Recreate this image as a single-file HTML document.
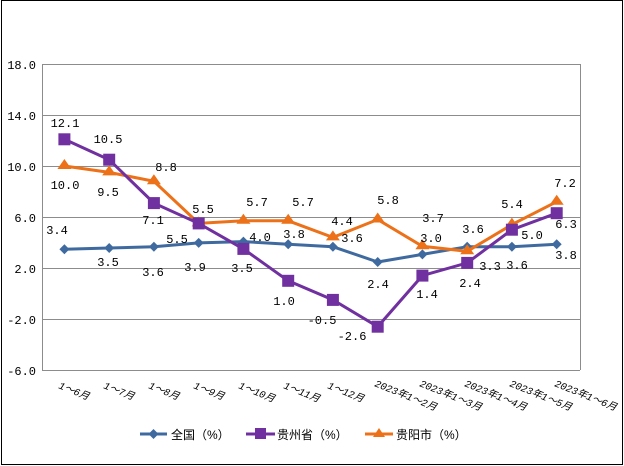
<!DOCTYPE html>
<html><head><meta charset="utf-8"><style>
body{margin:0;background:#fff}
svg{display:block}
text{font-family:"Liberation Mono","Noto Sans CJK SC",monospace;font-size:12px;fill:#000}
</style></head><body>
<svg width="624" height="466" viewBox="0 0 624 466" xmlns="http://www.w3.org/2000/svg">
<rect x="1.5" y="0.5" width="621" height="464" fill="#fff" stroke="#000" stroke-width="1"/>
<g stroke="#8c8c8c" stroke-width="1" fill="none">
<line x1="42" y1="64.5" x2="580" y2="64.5"/>
<line x1="42" y1="115.5" x2="580" y2="115.5"/>
<line x1="42" y1="166.5" x2="580" y2="166.5"/>
<line x1="42" y1="217.5" x2="580" y2="217.5"/>
<line x1="42" y1="268.5" x2="580" y2="268.5"/>
<line x1="42" y1="319.5" x2="580" y2="319.5"/>
<line x1="42.5" y1="64" x2="42.5" y2="370"/>
<line x1="580.5" y1="64" x2="580.5" y2="370"/>
<line x1="42" y1="370.5" x2="580" y2="370.5"/>
</g>
<g text-anchor="end">
<text x="36" y="69">18.0</text><text x="36" y="120">14.0</text><text x="36" y="171">10.0</text>
<text x="36" y="222">6.0</text><text x="36" y="273">2.0</text><text x="36" y="324">-2.0</text><text x="36" y="375">-6.0</text>
</g>
<g style="font-style:italic">
<text transform="translate(58,388) rotate(22)" style="font-size:10px">1～6月</text>
<text transform="translate(103,388) rotate(22)" style="font-size:10px">1～7月</text>
<text transform="translate(148,388) rotate(22)" style="font-size:10px">1～8月</text>
<text transform="translate(193,388) rotate(22)" style="font-size:10px">1～9月</text>
<text transform="translate(238,388) rotate(22)" style="font-size:10px">1～10月</text>
<text transform="translate(283,388) rotate(22)" style="font-size:10px">1～11月</text>
<text transform="translate(327,388) rotate(22)" style="font-size:10px">1～12月</text>
<text transform="translate(374,386) rotate(22)" style="font-size:10px">2023年1～2月</text>
<text transform="translate(419,386) rotate(22)" style="font-size:10px">2023年1～3月</text>
<text transform="translate(464,386) rotate(22)" style="font-size:10px">2023年1～4月</text>
<text transform="translate(509,386) rotate(22)" style="font-size:10px">2023年1～5月</text>
<text transform="translate(554,386) rotate(22)" style="font-size:10px">2023年1～6月</text>
</g>
<polyline fill="none" stroke="#3e6aa0" stroke-width="3" points="64.4,249.3 109.2,248.0 153.9,246.7 198.7,242.9 243.4,241.6 288.2,244.2 332.9,246.7 377.7,262.0 422.4,254.4 467.2,246.7 511.9,246.7 556.7,244.2"/>
<g fill="#3e6aa0">
<path d="M64.4,244.3l5,5-5,5-5-5z"/><path d="M109.2,243l5,5-5,5-5-5z"/><path d="M153.9,241.7l5,5-5,5-5-5z"/><path d="M198.7,237.9l5,5-5,5-5-5z"/><path d="M243.4,236.6l5,5-5,5-5-5z"/><path d="M288.2,239.2l5,5-5,5-5-5z"/><path d="M332.9,241.7l5,5-5,5-5-5z"/><path d="M377.7,257l5,5-5,5-5-5z"/><path d="M422.4,249.4l5,5-5,5-5-5z"/><path d="M467.2,241.7l5,5-5,5-5-5z"/><path d="M511.9,241.7l5,5-5,5-5-5z"/><path d="M556.7,239.2l5,5-5,5-5-5z"/>
</g>
<polyline fill="none" stroke="#ec7118" stroke-width="3" points="64.4,166 109.2,172.4 153.9,181.3 198.7,223.4 243.4,220.8 288.2,220.8 332.9,237.4 377.7,219.5 422.4,246.3 467.2,251.3 511.9,224.6 556.7,201.7"/>
<g fill="#ec7118">
<path d="M64.4,159l7,10h-14z"/><path d="M109.2,165.4l7,10h-14z"/><path d="M153.9,174.3l7,10h-14z"/><path d="M198.7,216.4l7,10h-14z"/><path d="M243.4,213.8l7,10h-14z"/><path d="M288.2,213.8l7,10h-14z"/><path d="M332.9,230.4l7,10h-14z"/><path d="M377.7,212.5l7,10h-14z"/><path d="M422.4,239.3l7,10h-14z"/><path d="M467.2,244.3l7,10h-14z"/><path d="M511.9,217.6l7,10h-14z"/><path d="M556.7,194.7l7,10h-14z"/>
</g>
<polyline fill="none" stroke="#7030a0" stroke-width="3" points="64.4,139.3 109.2,159.7 153.9,203.1 198.7,223.4 243.4,248.9 288.2,280.8 332.9,299.9 377.7,326.7 422.4,275.6 467.2,262.9 511.9,229.7 556.7,213.2"/>
<g fill="#7030a0">
<rect x="58.4" y="133.3" width="12" height="12"/><rect x="103.2" y="153.7" width="12" height="12"/><rect x="147.9" y="197.1" width="12" height="12"/><rect x="192.7" y="217.4" width="12" height="12"/><rect x="237.4" y="242.9" width="12" height="12"/><rect x="282.2" y="274.8" width="12" height="12"/><rect x="326.9" y="293.9" width="12" height="12"/><rect x="371.7" y="320.7" width="12" height="12"/><rect x="416.4" y="269.6" width="12" height="12"/><rect x="461.2" y="256.9" width="12" height="12"/><rect x="505.9" y="223.7" width="12" height="12"/><rect x="550.7" y="207.2" width="12" height="12"/>
</g>
<g text-anchor="middle">
<text x="65" y="127">12.1</text><text x="108" y="143">10.5</text><text x="65" y="189">10.0</text><text x="108" y="196">9.5</text>
<text x="57" y="234">3.4</text><text x="108" y="266">3.5</text>
<text x="166" y="171">8.8</text><text x="153" y="224">7.1</text><text x="177" y="243">5.5</text><text x="153" y="276">3.6</text>
<text x="203" y="213">5.5</text><text x="195" y="271">3.9</text>
<text x="257" y="206">5.7</text><text x="260" y="241">4.0</text><text x="242" y="272">3.5</text>
<text x="303" y="206">5.7</text><text x="294" y="238">3.8</text><text x="284" y="305">1.0</text>
<text x="342" y="225">4.4</text><text x="352" y="242">3.6</text><text x="322" y="324">-0.5</text><text x="352" y="340">-2.6</text>
<text x="388" y="204">5.8</text><text x="378" y="288">2.4</text>
<text x="433" y="222">3.7</text><text x="431" y="242">3.0</text><text x="427" y="298">1.4</text>
<text x="473" y="233">3.6</text><text x="490" y="270">3.3</text><text x="470" y="287">2.4</text>
<text x="512" y="208">5.4</text><text x="532" y="239">5.0</text><text x="517" y="269">3.6</text>
<text x="565" y="187">7.2</text><text x="566" y="228">6.3</text><text x="566" y="259">3.8</text>
</g>
<line x1="140" y1="434" x2="167" y2="434" stroke="#3e6aa0" stroke-width="3"/><path d="M153.5,429l5,5-5,5-5-5z" fill="#3e6aa0"/>
<text x="171" y="439" style="font-family:'Liberation Sans','Noto Sans CJK SC',sans-serif;font-size:12px">全国（%）</text>
<line x1="246" y1="434" x2="275" y2="434" stroke="#7030a0" stroke-width="3"/><rect x="255" y="428" width="11" height="11" fill="#7030a0"/>
<text x="277" y="439" style="font-family:'Liberation Sans','Noto Sans CJK SC',sans-serif;font-size:12px">贵州省（%）</text>
<line x1="365" y1="434" x2="393" y2="434" stroke="#ec7118" stroke-width="3"/><path d="M379,428l6,9h-12z" fill="#ec7118"/>
<text x="396" y="439" style="font-family:'Liberation Sans','Noto Sans CJK SC',sans-serif;font-size:12px">贵阳市（%）</text>
</svg>
</body></html>
